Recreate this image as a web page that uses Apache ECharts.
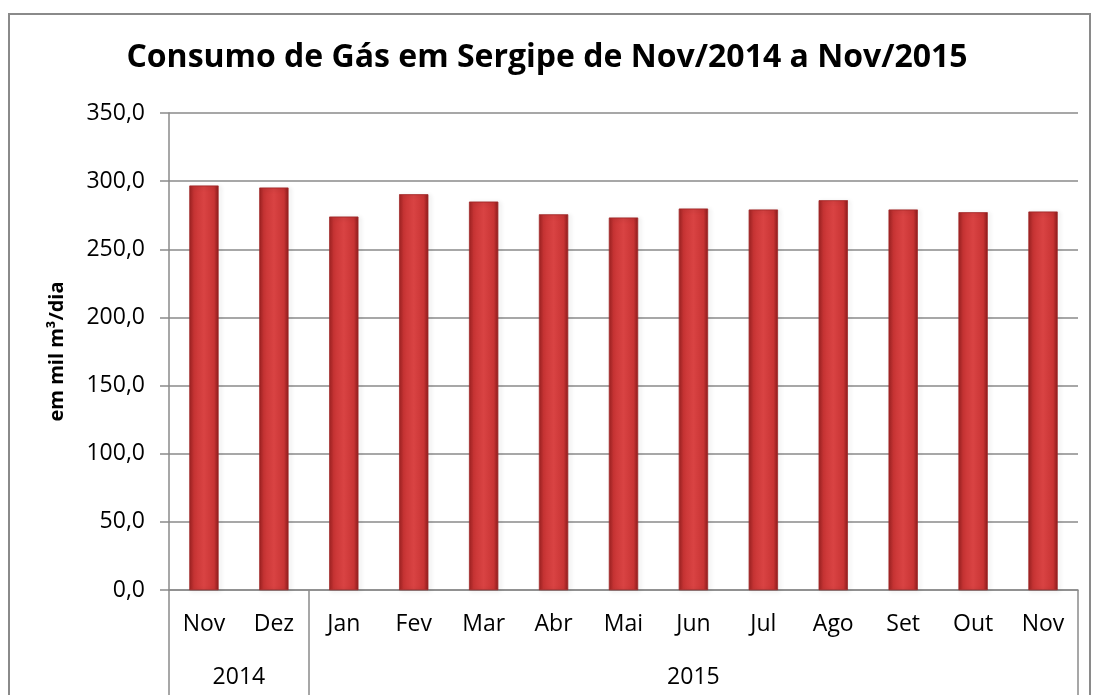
<!DOCTYPE html>
<html>
<head>
<meta charset="utf-8">
<script src="https://cdn.jsdelivr.net/npm/echarts@6/dist/echarts.min.js"></script>
<style>
  html, body { margin: 0; padding: 0; background: #fff; }
  #container { width: 1094px; height: 695px; }
</style>
</head>
<body>
<div id="container"></div>
<script>
var myChart = echarts.init(document.getElementById('container'));

// dados
var months = ['Nov', 'Dez', 'Jan', 'Fev', 'Mar', 'Abr', 'Mai', 'Jun', 'Jul', 'Ago', 'Set', 'Out', 'Nov'];
var consumo = [296.7, 295.2, 273.9, 290.3, 284.9, 275.6, 273.2, 279.8, 279.1, 285.9, 279.1, 277.1, 277.6];
var years = ['2014', '2015'];
var yearSpans = [2, 11];   // quantos meses em cada ano
var yTicks = [0, 50, 100, 150, 200, 250, 300, 350];

// limites e centros dos grupos de ano (em unidades de categoria)
var yearBounds = [0];
var yearCenters = [];
var acc = 0;
for (var i = 0; i < yearSpans.length; i++) {
  yearCenters.push(acc + yearSpans[i] / 2);
  acc += yearSpans[i];
  yearBounds.push(acc);
}

var font = 'Open Sans';
var gray = '#8a8a8a';

var option = {
  backgroundColor: '#fff',
  title: {
    text: 'Consumo de Gás em Sergipe de Nov/2014 a Nov/2015',
    left: 'center',
    top: 37,
    textStyle: {
      fontFamily: font,
      fontWeight: 'bold',
      fontSize: 32,
      color: '#000'
    }
  },
  graphic: [{
    type: 'rect',
    shape: { x: 9, y: 14, width: 1081, height: 720 },
    style: { fill: 'none', stroke: gray, lineWidth: 2 },
    silent: true
  }],
  grid: {
    left: 169,
    right: 16,
    top: 113,
    bottom: 105
  },
  xAxis: [
    {
      type: 'category',
      data: months,
      position: 'bottom',
      axisLine: { lineStyle: { color: gray, width: 1.5 } },
      axisTick: {
        interval: 0,
        length: 51,
        lineStyle: { color: gray, width: 1.5 }
      },
      axisLabel: {
        interval: 0,
        margin: 23,
        fontFamily: font,
        fontSize: 23,
        color: '#000'
      }
    },
    {
      type: 'value',
      min: 0,
      max: months.length,
      position: 'bottom',
      splitLine: { show: false },
      axisLine: { show: false },
      axisTick: {
        show: true,
        customValues: yearBounds,
        length: 120,
        lineStyle: { color: gray, width: 1.5 }
      },
      axisLabel: {
        customValues: yearCenters,
        margin: 76,
        fontFamily: font,
        fontSize: 23,
        color: '#000',
        formatter: function (v) {
          var k = yearCenters.indexOf(v);
          return k >= 0 ? years[k] : '';
        }
      }
    }
  ],
  yAxis: {
    type: 'value',
    min: yTicks[0],
    max: yTicks[yTicks.length - 1],
    interval: 50,
    name: 'em mil m³/dia',
    nameLocation: 'middle',
    nameRotate: 90,
    nameGap: 102,
    nameTextStyle: {
      fontFamily: font,
      fontWeight: 'bold',
      fontSize: 20,
      color: '#000'
    },
    axisLine: { show: true, lineStyle: { color: gray, width: 1.5 } },
    axisTick: { show: true, length: 9, lineStyle: { color: gray, width: 1.5 } },
    splitLine: { lineStyle: { color: gray, width: 1.5 } },
    axisLabel: {
      margin: 24,
      fontFamily: font,
      fontSize: 23,
      color: '#000',
      formatter: function (v) {
        return v.toFixed(1).replace('.', ',');
      }
    }
  },
  series: [
    {
      name: 'Consumo',
      type: 'bar',
      xAxisIndex: 0,
      barWidth: 29,
      data: consumo,
      itemStyle: {
        color: new echarts.graphic.LinearGradient(0, 0, 1, 0, [
          { offset: 0, color: '#9e2222' },
          { offset: 0.15, color: '#c83434' },
          { offset: 0.5, color: '#d94343' },
          { offset: 0.85, color: '#c83434' },
          { offset: 1, color: '#8e1d1d' }
        ]),
        borderColor: '#a02828',
        borderWidth: 0.5,
        shadowColor: 'rgba(0,0,0,0.3)',
        shadowBlur: 4,
        shadowOffsetX: 2,
        shadowOffsetY: 1
      }
    }
  ]
};

myChart.setOption(option);
</script>
</body>
</html>
